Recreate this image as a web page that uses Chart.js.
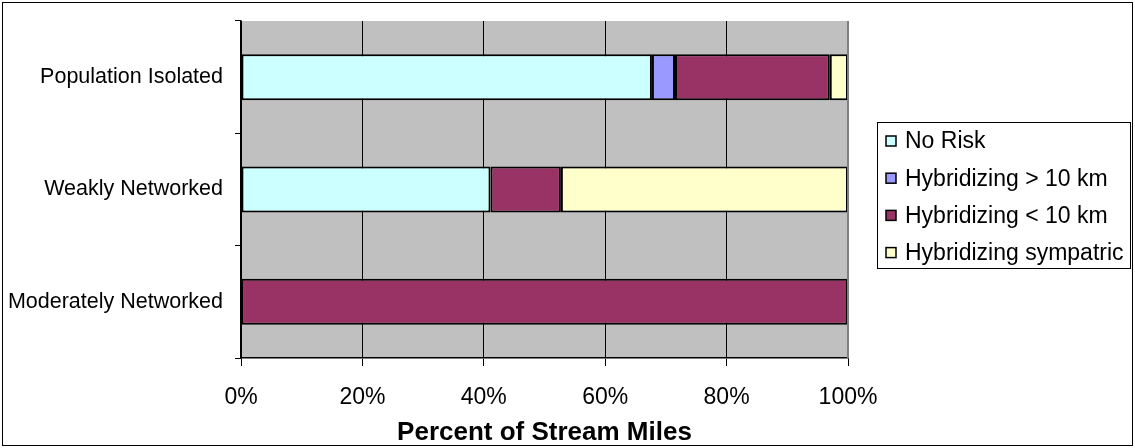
<!DOCTYPE html>
<html>
<head>
<meta charset="utf-8">
<script src="https://cdn.jsdelivr.net/npm/chart.js@4"></script>
<style>
  html, body { margin: 0; padding: 0; background: #fff; }
  #wrap { width: 1135px; height: 448px; position: relative; }
</style>
</head>
<body>
<div id="wrap"><canvas id="riskChart" width="1135" height="448"></canvas></div>
<script>
// 데이터
const categories = ['Population Isolated', 'Weakly Networked', 'Moderately Networked'];
const seriesNames = ['No Risk', 'Hybridizing > 10 km', 'Hybridizing < 10 km', 'Hybridizing sympatric'];
const noRisk = [67.7, 41.1, 0];
const hybFar = [3.8, 0, 0];
const hybNear = [25.5, 11.6, 100];
const hybSym = [3.0, 47.3, 0];
const xTicks = [0, 20, 40, 60, 80, 100];

const colors = ['#CCFFFF', '#9999FF', '#993366', '#FFFFCC'];
const font = 'Liberation Sans, Arial, sans-serif';

// 배경 + 테두리 + 범례
const frame = {
  id: 'frame',
  beforeDraw(chart) {
    const c = chart.ctx, a = chart.chartArea;
    c.save();
    c.fillStyle = '#fff';
    c.fillRect(0, 0, chart.width, chart.height);
    c.fillStyle = '#C0C0C0';
    c.fillRect(a.left, a.top, a.right - a.left, a.bottom - a.top);
    c.restore();
  },
  afterDraw(chart) {
    const c = chart.ctx, a = chart.chartArea;
    c.save();
    // 오른쪽 회색 테두리
    c.strokeStyle = '#808080';
    c.lineWidth = 2;
    c.beginPath();
    c.moveTo(a.right, a.top);
    c.lineTo(a.right, a.bottom);
    c.stroke();
    // 바깥 테두리
    c.strokeStyle = '#000';
    c.lineWidth = 1;
    c.strokeRect(2.5, 2.5, 1130, 443);
    // 범례
    c.strokeStyle = '#000';
    c.strokeRect(877.5, 122.5, 253, 146);
    c.font = '23px ' + font;
    c.textBaseline = 'middle';
    c.textAlign = 'left';
    seriesNames.forEach((name, i) => {
      const y = 141 + i * 37.2;
      c.fillStyle = colors[i];
      c.fillRect(886, y - 5, 10, 10);
      c.strokeStyle = '#000';
      c.lineWidth = 1.5;
      c.strokeRect(886, y - 5, 10, 10);
      c.fillStyle = '#000';
      c.fillText(name, 905, y + 1);
    });
    c.restore();
  }
};

const barStyle = { borderColor: '#000', borderWidth: 2, borderSkipped: false, barPercentage: 0.41, categoryPercentage: 1 };

const chart = new Chart(document.getElementById('riskChart').getContext('2d'), {
  type: 'bar',
  data: {
    labels: categories,
    datasets: [
      { label: seriesNames[0], data: noRisk, backgroundColor: colors[0], ...barStyle },
      { label: seriesNames[1], data: hybFar, backgroundColor: colors[1], ...barStyle },
      { label: seriesNames[2], data: hybNear, backgroundColor: colors[2], ...barStyle },
      { label: seriesNames[3], data: hybSym, backgroundColor: colors[3], ...barStyle }
    ]
  },
  options: {
    indexAxis: 'y',
    responsive: false,
    animation: false,
    layout: { padding: { left: 0, right: 287, top: 21, bottom: 0 } },
    scales: {
      x: {
        stacked: true,
        min: 0,
        max: 100,
        afterBuildTicks: (s) => { s.ticks = xTicks.map(v => ({ value: v })); },
        afterFit: (s) => { s.height = 90; s.paddingLeft = 0; s.paddingRight = 0; },
        border: { color: '#000', width: 1.5 },
        grid: { color: '#000', lineWidth: 1, tickLength: 8, drawOnChartArea: true },
        ticks: {
          color: '#000',
          padding: 18,
          font: { size: 23, family: font },
          callback: (v) => v + '%'
        },
        title: {
          display: true,
          text: 'Percent of Stream Miles',
          color: '#000',
          padding: { top: 2, bottom: 0 },
          font: { size: 26, weight: 'bold', family: font }
        }
      },
      y: {
        stacked: true,
        afterFit: (s) => { s.width = 241; s.paddingTop = 0; s.paddingBottom = 0; },
        border: { color: '#000', width: 1.5 },
        grid: { offset: true, drawOnChartArea: false, color: '#000', tickLength: 6 },
        ticks: {
          color: '#000',
          padding: 12,
          font: { size: 21.5, family: font }
        }
      }
    },
    plugins: {
      legend: { display: false },
      tooltip: { enabled: false }
    }
  },
  plugins: [frame]
});
</script>
</body>
</html>
